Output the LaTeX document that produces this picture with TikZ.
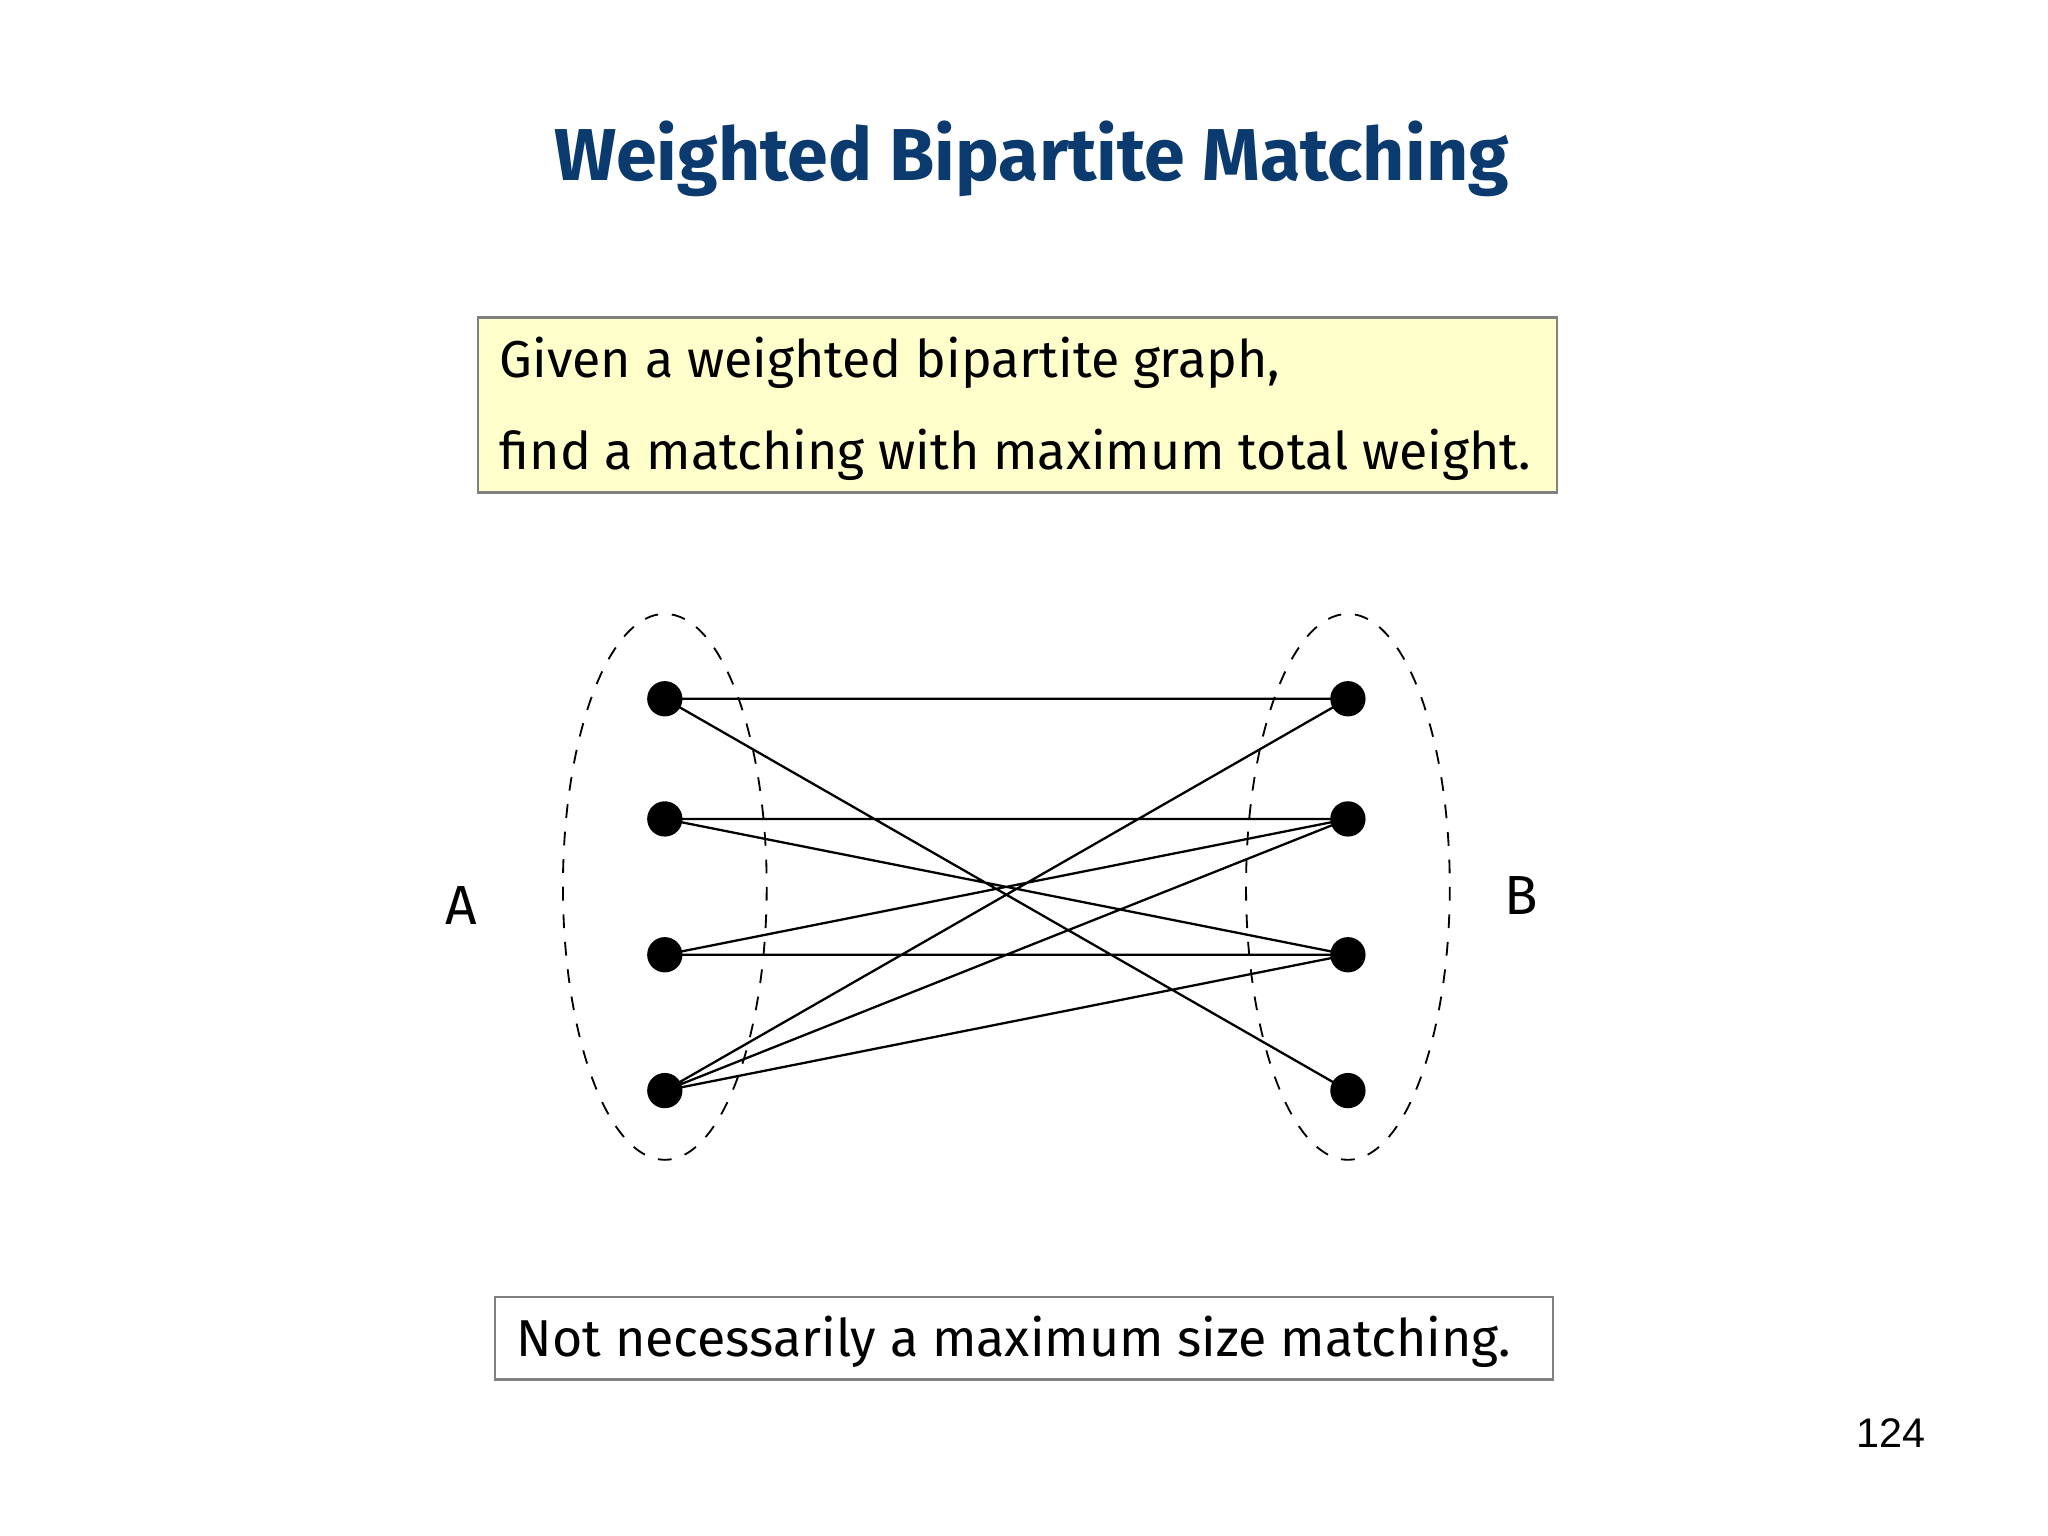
\documentclass[tikz,border=0pt]{standalone}
\usepackage{fontspec}
\setmainfont{Fira Sans}
\newfontfamily\arialf{Liberation Sans}
\definecolor{titleblue}{HTML}{0B3A6E}
\definecolor{boxyellow}{HTML}{FFFFCC}
\begin{document}
\begin{tikzpicture}[x=0.01cm,y=-0.01cm,
  vtx/.style={circle,fill=black,inner sep=0pt,minimum size=0.27cm},
  edge/.style={line width=0.5pt},
  part/.style={dashed,line width=0.4pt},
  txt/.style={anchor=west,inner sep=0pt,font=\fontsize{11.3}{14}\selectfont},
  infobox/.style={draw=gray,line width=0.6pt}]
\useasboundingbox (0,0) rectangle (1568,1176);
\node[font=\bfseries\fontsize{16}{20}\selectfont,text=titleblue] (title) at (790,122) {Weighted Bipartite Matching};
\draw[infobox,fill=boxyellow] (366,243) rectangle (1192,377);
\node[txt] (l1) at (382,278) {Given a weighted bipartite graph,};
\node[txt] (l2) at (382,348) {find a matching with maximum total weight.};
\draw[part] (509,679) ellipse [x radius=78,y radius=209];
\draw[part] (1032,679) ellipse [x radius=78,y radius=209];
\node[vtx] (a1) at (509,535) {};
\node[vtx] (a2) at (509,627) {};
\node[vtx] (a3) at (509,731) {};
\node[vtx] (a4) at (509,835) {};
\node[vtx] (b1) at (1032,535) {};
\node[vtx] (b2) at (1032,627) {};
\node[vtx] (b3) at (1032,731) {};
\node[vtx] (b4) at (1032,835) {};
\draw[edge] (a1.center)--(b1.center) (a1.center)--(b4.center)
 (a2.center)--(b2.center) (a2.center)--(b3.center)
 (a3.center)--(b2.center) (a3.center)--(b3.center)
 (a4.center)--(b1.center) (a4.center)--(b2.center) (a4.center)--(b3.center);
\node[font=\fontsize{12}{14}\selectfont] (la) at (353,693) {A};
\node[font=\fontsize{12}{14}\selectfont] (lb) at (1165,686) {B};
\draw[infobox,fill=white] (379,993) rectangle (1189,1056);
\node[txt] (nb) at (395,1027) {Not necessarily a maximum size matching.};
\node[font=\arialf\fontsize{9}{11}\selectfont] (pg) at (1448,1097) {124};
\end{tikzpicture}
\end{document}
